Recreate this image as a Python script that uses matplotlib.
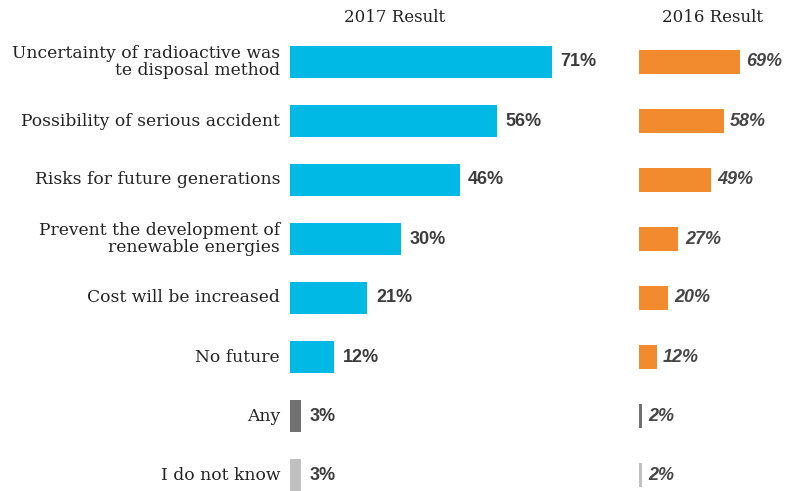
import numpy as np
from matplotlib import pyplot as plt

# survey reasons, shown top to bottom
reasons = ['Uncertainty of radioactive was\nte disposal method',
           'Possibility of serious accident',
           'Risks for future generations',
           'Prevent the development of\nrenewable energies',
           'Cost will be increased',
           'No future',
           'Any',
           'I do not know']
result2017 = [71, 56, 46, 30, 21, 12, 3, 3]
result2016 = [69, 58, 49, 27, 20, 12, 2, 2]

colors2017 = ['#00b9e4'] * 6 + ['#707070', '#c0c0c0']
colors2016 = ['#f28a2e'] * 6 + ['#707070', '#c0c0c0']

W, H = 785, 491
fig = plt.figure(figsize=(W / 100, H / 100), dpi=100)

rowPx = 59.0
top = 32.5
ylo, yhi = -0.5, -0.5 + (H - top) / rowPx

def addAxes(x0, x1):
    ax = fig.add_axes([x0 / W, 0, (x1 - x0) / W, 1 - top / H])
    ax.set_ylim(yhi, ylo)
    ax.axis('off')
    return ax

# left panel: 3.69 px per percent, right panel: 1.46 px per percent
ax1 = addAxes(290, 620)
ax1.set_xlim(0, 330 / 3.69)
ax2 = addAxes(639, 785)
ax2.set_xlim(0, 146 / 1.46)

y = np.arange(len(reasons))
ax1.barh(y, result2017, height=0.53, color=colors2017)
ax2.barh(y, result2016, height=0.41, color=colors2016)

for i, v in enumerate(result2017):
    ax1.text(v + 2.3, i, f'{v}%', va='center', ha='left', fontsize=13,
             fontweight='bold', color='#3c3c3c', family='Liberation Sans')
    ax1.text(-2.7, i, reasons[i], va='center', ha='right', fontsize=12.3,
             color='#222222', family='DejaVu Serif', linespacing=1.0)
for i, v in enumerate(result2016):
    ax2.text(v + 4.5, i, f'{v}%', va='center', ha='left', fontsize=13,
             fontweight='bold', style='italic', color='#464646',
             family='Liberation Sans')

fig.text(395 / W, 1 - 18 / H, '2017 Result', ha='center', va='center',
         fontsize=12, family='DejaVu Serif', color='#222222')
fig.text(712 / W, 1 - 18 / H, '2016 Result', ha='center', va='center',
         fontsize=12, family='DejaVu Serif', color='#222222')

fig.savefig('out.png', dpi=100)
